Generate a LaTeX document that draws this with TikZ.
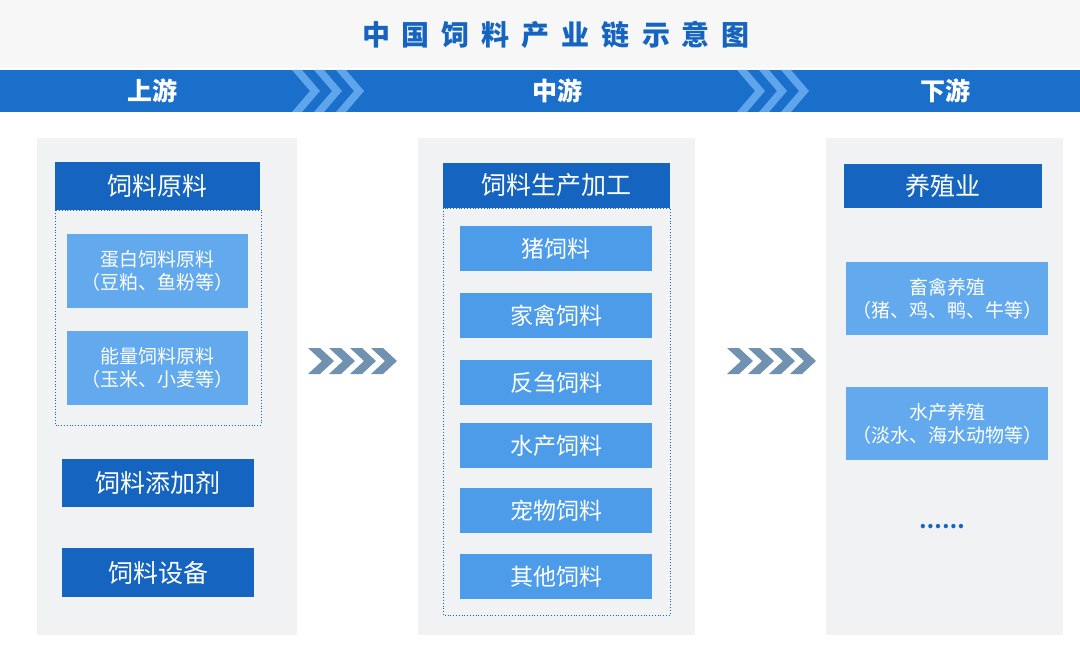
\documentclass[tikz,border=0pt]{standalone}
\usepackage{fontspec}
\newfontfamily\cjk{Noto Sans CJK SC}
\begin{document}
\begin{tikzpicture}[x=1pt,y=-1pt,font=\cjk,
  dark/.style={fill=hdr,text=white,inner sep=0,font=\cjk\fontsize{25}{25}\selectfont},
  lite/.style={fill=lb,text=white,inner sep=0,align=center,font=\cjk\fontsize{19}{23}\selectfont},
  mid/.style={fill=mb,text=white,inner sep=0,font=\cjk\fontsize{23}{23}\selectfont},
  panel/.style={fill=pg,draw=none},
  dotbox/.style={draw=hdr,dotted,thick}]
\definecolor{hdr}{HTML}{1565C0}
\definecolor{band}{HTML}{1A6FCB}
\definecolor{chev}{HTML}{5FA5EC}
\definecolor{lb}{HTML}{62A9EE}
\definecolor{mb}{HTML}{4C9CE9}
\definecolor{pg}{HTML}{F1F2F4}
\definecolor{ar}{HTML}{7191B0}
\useasboundingbox (0,0) rectangle (1080,666);
\fill[white] (0,0) rectangle (1080,666);
\fill[pg!60] (0,0) rectangle (1080,68);
\node (title) at (556,35) {\fontsize{28}{28}\selectfont\bfseries\color{hdr}中\hspace{12pt}国\hspace{12pt}饲\hspace{12pt}料\hspace{12pt}产\hspace{12pt}业\hspace{12pt}链\hspace{12pt}示\hspace{12pt}意\hspace{12pt}图};
\fill[band] (0,70) rectangle (1080,112);
\foreach \s in {292,737}{
 \foreach \k in {0,1,2}{
  \fill[chev] ({\s+\k*22},70) -- ({\s+\k*22+10},70) -- ({\s+\k*22+28},91) -- ({\s+\k*22+10},112) -- ({\s+\k*22},112) -- ({\s+\k*22+18},91) -- cycle;}}
\node[text=white,font=\cjk\bfseries\fontsize{25}{25}\selectfont] (up) at (152,91) {上游};
\node[text=white,font=\cjk\bfseries\fontsize{25}{25}\selectfont] (md) at (557,91) {中游};
\node[text=white,font=\cjk\bfseries\fontsize{25}{25}\selectfont] (dn) at (945,91) {下游};
\fill[pg] (37,138) rectangle (297,635);
\fill[pg] (418,138) rectangle (695,635);
\fill[pg] (826,138) rectangle (1063,635);
% left
\draw[dotbox] (55,210) rectangle (261,425);
\node[dark,minimum width=205,minimum height=48] (h1) at (157.5,186) {饲料原料};
\node[lite,minimum width=181,minimum height=74] (a1) at (157.5,271) {蛋白饲料原料\\（豆粕、鱼粉等）};
\node[lite,minimum width=181,minimum height=74] (a2) at (157.5,368) {能量饲料原料\\（玉米、小麦等）};
\node[dark,minimum width=192,minimum height=48] (a3) at (158,483) {饲料添加剂};
\node[dark,minimum width=192,minimum height=49] (a4) at (158,572.5) {饲料设备};
% middle
\draw[dotbox] (443,208) rectangle (670,615);
\node[dark,minimum width=227,minimum height=45] (h2) at (556.5,185.5) {饲料生产加工};
\foreach \n/\y/\t in {m1/248.5/猪饲料,m2/315.5/家禽饲料,m3/382.5/反刍饲料,m4/445.5/水产饲料,m5/510.5/宠物饲料,m6/576.5/其他饲料}
  \node[mid,minimum width=192,minimum height=45] (\n) at (556,\y) {\t};
% right
\node[dark,minimum width=198,minimum height=44] (h3) at (943,186) {养殖业};
\node[lite,minimum width=202,minimum height=73] (r1) at (947,298.5) {畜禽养殖\\（猪、鸡、鸭、牛等）};
\node[lite,minimum width=202,minimum height=73] (r2) at (947,423.5) {水产养殖\\（淡水、海水动物等）};
\node[text=hdr,font=\cjk\bfseries\fontsize{20}{20}\selectfont] (dots) at (942,527) {……};
% arrows
\foreach \s in {308,727}{
 \foreach \k in {0,1,2,3}{
  \fill[ar] ({\s+\k*21},348) -- ({\s+\k*21+12},348) -- ({\s+\k*21+26},361) -- ({\s+\k*21+12},374) -- ({\s+\k*21},374) -- ({\s+\k*21+14},361) -- cycle;}}
\end{tikzpicture}
\end{document}
